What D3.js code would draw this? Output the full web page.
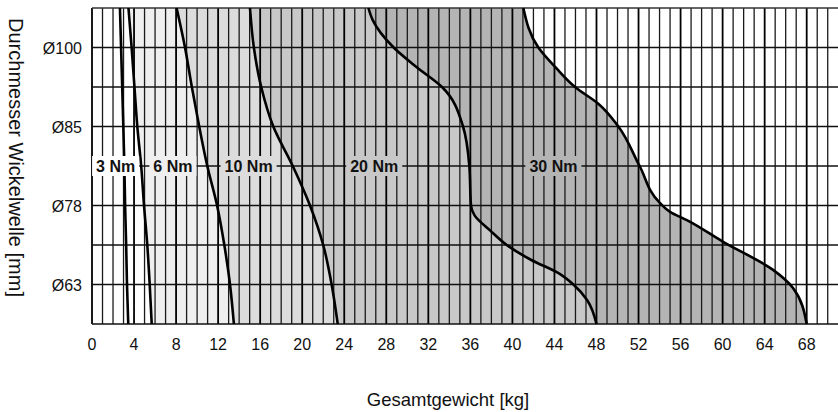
<!DOCTYPE html>
<html>
	<head>
		<meta charset="utf-8">
		<style type="text/css">
			body { margin: 0; background: #fff; }
			svg { display: block; }
			text { font-family: "Liberation Sans", Arial, sans-serif; fill: #111; }
		</style>
		<title>Wickelwelle</title>
	</head>
	<body>
		<div id="chart"></div>

		<script src="https://cdn.jsdelivr.net/npm/d3@7"></script>
		<script>

		// tick labels
		var kgTicks = [0, 4, 8, 12, 16, 20, 24, 28, 32, 36, 40, 44, 48, 52, 56, 60, 64, 68];
		var diaLabels = ["Ø63", "Ø78", "Ø85", "Ø100"];
		var diaLevels = [1, 3, 5, 7];

		// curves: [kg, level] (level 0 = bottom, 8 = top)
		var curve1 = [[2.66, 8], [2.82, 6.5], [2.98, 5], [3.08, 4], [3.15, 3], [3.25, 2], [3.33, 1], [3.45, 0]];
		var curve2 = [[3.47, 8], [3.77, 7], [4.04, 6], [4.31, 5], [4.68, 4], [4.95, 3], [5.26, 2], [5.49, 1], [5.68, 0]];
		var curve3 = [[8.05, 8], [8.85, 7], [9.5, 6], [10.2, 5], [10.97, 4], [11.9, 3], [12.59, 2], [13.13, 1], [13.5, 0]];
		var curve4 = [[15.03, 8], [15.4, 7], [16.1, 6], [17.25, 5], [19.1, 4], [20.74, 3], [22.0, 2], [22.8, 1], [23.38, 0]];
		var curve5 = [[26.3, 8], [26.7, 7.7], [28.7, 7], [30.9, 6.5], [33.3, 6], [35.3, 5], [35.9, 4], [36.06, 3], [36.4, 2.75],
			[37.87, 2.37], [39.46, 2], [41.8, 1.62], [44.5, 1.27], [45.8, 1], [47.1, 0.61], [48.0, 0]];
		var curve6 = [[41.04, 8], [42.47, 7], [44.2, 6.47], [45.96, 6], [48.2, 5.57], [50.08, 5], [52.1, 4], [54.05, 3.06],
			[55.0, 2.84], [56.6, 2.63], [60.05, 2.08], [64.8, 1.37], [66.7, 0.91], [68.0, 0]];

		// torque labels
		var torqueNames = ["3 Nm", "6 Nm", "10 Nm", "20 Nm", "30 Nm"];
		var torqueKg = [2.25, 7.7, 14.9, 26.85, 43.9];

		var bandFills = ["#ffffff", "#efefef", "#dcdcdc", "#c8c8c8", "#b4b4b4"];

		var width = 838;
		var height = 412;

		var x = d3.scaleLinear().domain([0, 68]).range([92, 806.7]);
		var y = d3.scaleLinear().domain([0, 8]).range([324, 8]);

		var svg = d3.select("#chart").append("svg")
			.attr("width", width)
			.attr("height", height);

		// shaded bands: fill 0..curve from the right-most curve to the left
		var area = d3.area()
			.curve(d3.curveMonotoneY)
			.x0(x(0))
			.x1(function(d) { return x(d[0]); })
			.y(function(d) { return y(d[1]); });

		var fillOrder = [[curve6, bandFills[4]], [curve5, bandFills[3]], [curve4, bandFills[2]], [curve3, bandFills[1]], [curve2, bandFills[0]]];
		svg.append("g").selectAll("path")
			.data(fillOrder)
			.enter().append("path")
				.attr("d", function(d) { return area(d[0]); })
				.attr("fill", function(d) { return d[1]; });

		// vertical grid every kg
		svg.append("g").selectAll("line")
			.data(d3.range(0, 71))
			.enter().append("line")
				.attr("x1", function(d) { return x(d); })
				.attr("x2", function(d) { return x(d); })
				.attr("y1", y(8))
				.attr("y2", y(0))
				.attr("stroke", function(d) { return d % 4 === 0 ? "#000" : "#1a1a1a"; })
				.attr("stroke-width", function(d) { return d % 4 === 0 ? 1.8 : 1.3; });

		// horizontal grid
		svg.append("g").selectAll("line")
			.data(d3.range(0, 9))
			.enter().append("line")
				.attr("x1", x(0))
				.attr("x2", width)
				.attr("y1", function(d) { return y(d); })
				.attr("y2", function(d) { return y(d); })
				.attr("stroke", function(d) { return d === 8 ? "#333" : "#111"; })
				.attr("stroke-width", 1.4);

		// curves
		var line = d3.line()
			.curve(d3.curveMonotoneY)
			.x(function(d) { return x(d[0]); })
			.y(function(d) { return y(d[1]); });

		svg.append("g").selectAll("path")
			.data([curve1, curve2, curve3, curve4, curve5, curve6])
			.enter().append("path")
				.attr("d", line)
				.attr("fill", "none")
				.attr("stroke", "#000")
				.attr("stroke-width", 2.6);

		// torque labels with background boxes
		var lab = svg.append("g").selectAll("g")
			.data(torqueNames)
			.enter().append("g")
				.attr("transform", function(d, i) { return "translate(" + x(torqueKg[i]) + "," + y(4) + ")"; });

		lab.append("rect").attr("fill", function(d, i) { return bandFills[i]; });
		lab.append("text")
			.attr("text-anchor", "middle")
			.attr("y", 6)
			.style("font-weight", "bold")
			.style("font-size", "16px")
			.text(function(d) { return d; });
		lab.each(function() {
			var g = d3.select(this);
			var w = g.select("text").node().getComputedTextLength();
			g.select("rect")
				.attr("x", -w / 2 - 4)
				.attr("width", w + 8)
				.attr("y", -10)
				.attr("height", 20);
		});

		// x tick labels
		svg.append("g").selectAll("text")
			.data(kgTicks)
			.enter().append("text")
				.attr("x", function(d) { return x(d); })
				.attr("y", 349.5)
				.attr("text-anchor", "middle")
				.style("font-size", "16px")
				.text(function(d) { return d; });

		// y tick labels
		svg.append("g").selectAll("text")
			.data(diaLabels)
			.enter().append("text")
				.attr("x", 82)
				.attr("y", function(d, i) { return y(diaLevels[i]) + 6; })
				.attr("text-anchor", "end")
				.style("font-size", "16px")
				.text(function(d) { return d; });

		// axis titles
		svg.append("text")
			.attr("x", 448)
			.attr("y", 406)
			.attr("text-anchor", "middle")
			.style("font-size", "18.5px")
			.text("Gesamtgewicht [kg]");

		svg.append("text")
			.attr("transform", "translate(9,157.5) rotate(90)")
			.attr("text-anchor", "middle")
			.style("font-size", "20px")
			.text("Durchmesser Wickelwelle [mm]");

		</script>
	</body>
</html>
